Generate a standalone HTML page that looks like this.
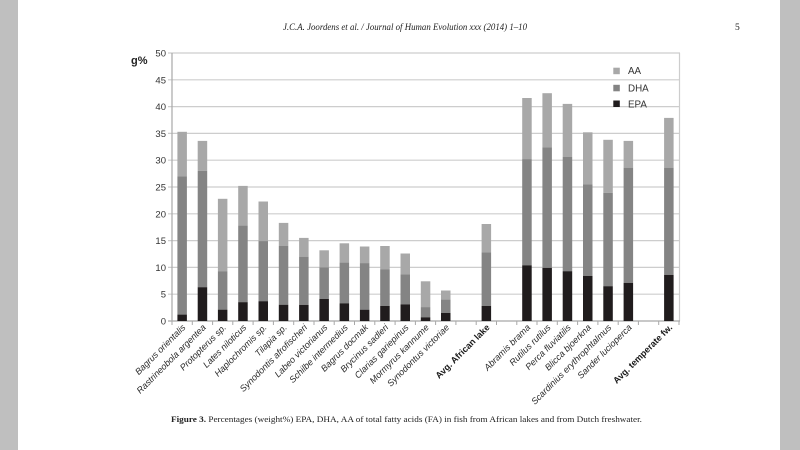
<!DOCTYPE html>
<html><head><meta charset="utf-8"><style>
html,body{margin:0;padding:0;width:800px;height:450px;overflow:hidden;background:#fff}
svg{display:block}
</style></head><body>
<svg width="800" height="450" viewBox="0 0 800 450" xmlns="http://www.w3.org/2000/svg" font-family="Liberation Sans, Arial, sans-serif">
<rect x="0" y="0" width="800" height="450" fill="#fff"/>
<rect x="0" y="0" width="18" height="450" fill="#bfbfbf"/>
<rect x="780" y="0" width="20" height="450" fill="#bfbfbf"/>

<text x="283" y="30" font-family="Liberation Serif, serif" font-style="italic" font-size="9.5" fill="#222" textLength="244" lengthAdjust="spacingAndGlyphs">J.C.A. Joordens et al. / Journal of Human Evolution xxx (2014) 1–10</text>
<text x="735" y="30" font-family="Liberation Serif, serif" font-size="9.5" fill="#222">5</text>

<!-- gridlines -->
<g stroke="#cdcdcd" stroke-width="1.2">
<line x1="168" y1="53" x2="680" y2="53"/>
<line x1="168" y1="79.8" x2="680" y2="79.8"/>
<line x1="168" y1="106.6" x2="680" y2="106.6"/>
<line x1="168" y1="133.4" x2="680" y2="133.4"/>
<line x1="168" y1="160.2" x2="680" y2="160.2"/>
<line x1="168" y1="187" x2="680" y2="187"/>
<line x1="168" y1="213.8" x2="680" y2="213.8"/>
<line x1="168" y1="240.6" x2="680" y2="240.6"/>
<line x1="168" y1="267.4" x2="680" y2="267.4"/>
<line x1="168" y1="294.2" x2="680" y2="294.2"/>
<line x1="679.5" y1="53" x2="679.5" y2="321"/>
</g>
<g stroke="#a8a8a8" stroke-width="1.2">
<line x1="172" y1="53" x2="172" y2="321"/>
<line x1="168" y1="321" x2="680" y2="321"/>
</g>
<!-- category ticks -->
<g stroke="#a8a8a8" stroke-width="1">
<line x1="172" y1="321" x2="172" y2="325"/><line x1="192.3" y1="321" x2="192.3" y2="325"/><line x1="212.6" y1="321" x2="212.6" y2="325"/><line x1="232.8" y1="321" x2="232.8" y2="325"/><line x1="253.1" y1="321" x2="253.1" y2="325"/><line x1="273.4" y1="321" x2="273.4" y2="325"/><line x1="293.7" y1="321" x2="293.7" y2="325"/><line x1="314" y1="321" x2="314" y2="325"/><line x1="334.2" y1="321" x2="334.2" y2="325"/><line x1="354.5" y1="321" x2="354.5" y2="325"/><line x1="374.8" y1="321" x2="374.8" y2="325"/><line x1="395.1" y1="321" x2="395.1" y2="325"/><line x1="415.4" y1="321" x2="415.4" y2="325"/><line x1="435.6" y1="321" x2="435.6" y2="325"/><line x1="455.9" y1="321" x2="455.9" y2="325"/><line x1="476.2" y1="321" x2="476.2" y2="325"/><line x1="496.5" y1="321" x2="496.5" y2="325"/><line x1="516.8" y1="321" x2="516.8" y2="325"/><line x1="537" y1="321" x2="537" y2="325"/><line x1="557.3" y1="321" x2="557.3" y2="325"/><line x1="577.6" y1="321" x2="577.6" y2="325"/><line x1="597.9" y1="321" x2="597.9" y2="325"/><line x1="618.2" y1="321" x2="618.2" y2="325"/><line x1="638.4" y1="321" x2="638.4" y2="325"/><line x1="658.7" y1="321" x2="658.7" y2="325"/><line x1="679" y1="321" x2="679" y2="325"/>
</g>

<!-- y labels -->
<g font-size="9.5" fill="#333" text-anchor="end">
<text x="166" y="56.5">50</text>
<text x="166" y="83.3">45</text>
<text x="166" y="110.1">40</text>
<text x="166" y="136.9">35</text>
<text x="166" y="163.7">30</text>
<text x="166" y="190.5">25</text>
<text x="166" y="217.3">20</text>
<text x="166" y="244.1">15</text>
<text x="166" y="270.9">10</text>
<text x="166" y="297.7">5</text>
<text x="166" y="324.5">0</text>
</g>
<text x="131" y="64" font-size="11" font-weight="bold" fill="#222">g%</text>

<!-- bars: AA -->
<g fill="#a8a8a8">
<rect x="177.4" y="131.8" width="9.5" height="44.5"/>
<rect x="197.7" y="140.9" width="9.5" height="30"/>
<rect x="217.9" y="198.8" width="9.5" height="72.4"/>
<rect x="238.2" y="185.9" width="9.5" height="39.7"/>
<rect x="258.5" y="201.5" width="9.5" height="39.7"/>
<rect x="278.8" y="222.9" width="9.5" height="23.1"/>
<rect x="299.1" y="237.9" width="9.5" height="18.8"/>
<rect x="319.4" y="250.3" width="9.5" height="17.1"/>
<rect x="339.6" y="243.3" width="9.5" height="19.3"/>
<rect x="359.9" y="246.5" width="9.5" height="16.6"/>
<rect x="380.2" y="246" width="9.5" height="23.5"/>
<rect x="400.5" y="253.5" width="9.5" height="20.9"/>
<rect x="420.8" y="281.3" width="9.5" height="25.8"/>
<rect x="441" y="290.5" width="9.5" height="9.1"/>
<rect x="481.6" y="224" width="9.5" height="28.4"/>
<rect x="522.2" y="98" width="9.5" height="61.1"/>
<rect x="542.4" y="93.2" width="9.5" height="54.1"/>
<rect x="562.7" y="103.9" width="9.5" height="53.1"/>
<rect x="583" y="132.3" width="9.5" height="52"/>
<rect x="603.3" y="139.8" width="9.5" height="53.1"/>
<rect x="623.6" y="140.9" width="9.5" height="26.8"/>
<rect x="664.1" y="117.9" width="9.5" height="49.8"/>
</g>
<!-- DHA -->
<g fill="#848484">
<rect x="177.4" y="176.3" width="9.5" height="138.3"/>
<rect x="197.7" y="170.9" width="9.5" height="116.3"/>
<rect x="217.9" y="271.2" width="9.5" height="38.6"/>
<rect x="238.2" y="225.6" width="9.5" height="76.7"/>
<rect x="258.5" y="241.1" width="9.5" height="60.1"/>
<rect x="278.8" y="246" width="9.5" height="59"/>
<rect x="299.1" y="256.7" width="9.5" height="48.2"/>
<rect x="319.4" y="267.4" width="9.5" height="31.6"/>
<rect x="339.6" y="262.6" width="9.5" height="40.7"/>
<rect x="359.9" y="263.1" width="9.5" height="46.6"/>
<rect x="380.2" y="269.5" width="9.5" height="36.5"/>
<rect x="400.5" y="274.4" width="9.5" height="30"/>
<rect x="420.8" y="307.1" width="9.5" height="10.2"/>
<rect x="441" y="299.6" width="9.5" height="13.4"/>
<rect x="481.6" y="252.4" width="9.5" height="53.6"/>
<rect x="522.2" y="159.1" width="9.5" height="106.2"/>
<rect x="542.4" y="147.3" width="9.5" height="120.6"/>
<rect x="562.7" y="157" width="9.5" height="114.2"/>
<rect x="583" y="184.3" width="9.5" height="91.7"/>
<rect x="603.3" y="192.9" width="9.5" height="93.3"/>
<rect x="623.6" y="167.7" width="9.5" height="115.2"/>
<rect x="664.1" y="167.7" width="9.5" height="107.2"/>
</g>
<!-- EPA -->
<g fill="#201c1d">
<rect x="177.4" y="314.6" width="9.5" height="6.4"/>
<rect x="197.7" y="287.2" width="9.5" height="33.8"/>
<rect x="217.9" y="309.7" width="9.5" height="11.3"/>
<rect x="238.2" y="302.2" width="9.5" height="18.8"/>
<rect x="258.5" y="301.2" width="9.5" height="19.8"/>
<rect x="278.8" y="304.9" width="9.5" height="16.1"/>
<rect x="299.1" y="304.9" width="9.5" height="16.1"/>
<rect x="319.4" y="299" width="9.5" height="22"/>
<rect x="339.6" y="303.3" width="9.5" height="17.7"/>
<rect x="359.9" y="309.7" width="9.5" height="11.3"/>
<rect x="380.2" y="306" width="9.5" height="15"/>
<rect x="400.5" y="304.4" width="9.5" height="16.6"/>
<rect x="420.8" y="317.3" width="9.5" height="3.7"/>
<rect x="441" y="313" width="9.5" height="8"/>
<rect x="481.6" y="306" width="9.5" height="15"/>
<rect x="522.2" y="265.3" width="9.5" height="55.7"/>
<rect x="542.4" y="267.9" width="9.5" height="53.1"/>
<rect x="562.7" y="271.2" width="9.5" height="49.8"/>
<rect x="583" y="276" width="9.5" height="45"/>
<rect x="603.3" y="286.2" width="9.5" height="34.8"/>
<rect x="623.6" y="282.9" width="9.5" height="38.1"/>
<rect x="664.1" y="274.9" width="9.5" height="46.1"/>
</g>

<!-- legend -->
<rect x="613.3" y="67.7" width="6.5" height="6.5" fill="#a8a8a8"/>
<rect x="613.3" y="84.8" width="6.5" height="6.5" fill="#848484"/>
<rect x="613.3" y="100.5" width="6.5" height="6.5" fill="#201c1d"/>
<g font-size="9.8" fill="#333">
<text x="628" y="74">AA</text>
<text x="628" y="91.5">DHA</text>
<text x="628" y="107.5">EPA</text>
</g>

<!-- category labels -->
<g font-size="9" fill="#2a2a2a" text-anchor="end" font-style="italic">
<text transform="translate(186.1,328) rotate(-45)">Bagrus orientalis</text>
<text transform="translate(206.4,328) rotate(-45)">Rastrineobola argentea</text>
<text transform="translate(226.7,328) rotate(-45)">Protopterus sp.</text>
<text transform="translate(247,328) rotate(-45)">Lates niloticus</text>
<text transform="translate(267.3,328) rotate(-45)">Haplochromis sp.</text>
<text transform="translate(287.5,328) rotate(-45)">Tilapia sp.</text>
<text transform="translate(307.8,328) rotate(-45)">Synodontis afrofischeri</text>
<text transform="translate(328.1,328) rotate(-45)">Labeo victorianus</text>
<text transform="translate(348.4,328) rotate(-45)">Schilbe intermedius</text>
<text transform="translate(368.7,328) rotate(-45)">Bagrus docmak</text>
<text transform="translate(388.9,328) rotate(-45)">Brycinus sadleri</text>
<text transform="translate(409.2,328) rotate(-45)">Clarias gariepinus</text>
<text transform="translate(429.5,328) rotate(-45)">Mormyrus kannume</text>
<text transform="translate(449.8,328) rotate(-45)">Synodontus victoriae</text>
<text transform="translate(530.9,328) rotate(-45)">Abramis brama</text>
<text transform="translate(551.2,328) rotate(-45)">Rutilus rutilus</text>
<text transform="translate(571.5,328) rotate(-45)">Perca fluviatilis</text>
<text transform="translate(591.7,328) rotate(-45)">Blicca bjoerkna</text>
<text transform="translate(612,328) rotate(-45)">Scardinius erythrophtalmus</text>
<text transform="translate(632.3,328) rotate(-45)">Sander lucioperca</text>
</g>
<g font-size="9" fill="#1a1a1a" text-anchor="end" font-weight="bold">
<text transform="translate(490.3,328) rotate(-45)">Avg. African lake</text>
<text transform="translate(672.9,328) rotate(-45)">Avg. temperate fw.</text>
</g>

<!-- caption -->
<text x="171" y="422" font-family="Liberation Serif, serif" font-size="8.6" fill="#222" textLength="471" lengthAdjust="spacingAndGlyphs"><tspan font-weight="bold">Figure 3.</tspan> Percentages (weight%) EPA, DHA, AA of total fatty acids (FA) in fish from African lakes and from Dutch freshwater.</text>
</svg>
</body></html>
